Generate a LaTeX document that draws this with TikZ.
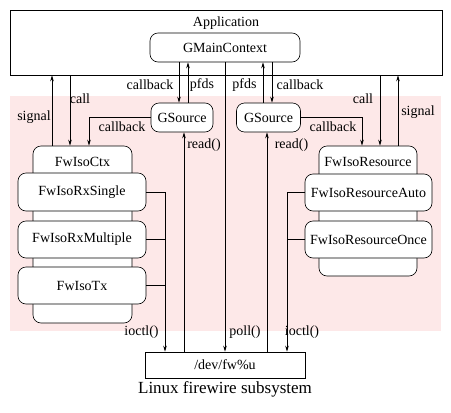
\documentclass[tikz,border=0pt]{standalone}
\usepackage{fontspec}
\setmainfont{Liberation Serif}
\usetikzlibrary{arrows.meta,positioning,calc}
\definecolor{layerpink}{RGB}{253,232,232}

\begin{document}
\begin{tikzpicture}[x=1pt,y=-1pt,line width=0.6pt,>={Stealth[length=6pt,width=3.5pt]},
	every node/.style={font=\fontsize{14}{16}\selectfont,inner sep=0pt},
	plain/.style={draw,fill=white},
	rbox/.style={draw,fill=white,rounded corners=8pt},
	lbl/.style={fill=none}]
	\useasboundingbox (0,0) rectangle (451,413);
	% kernel side background
	\fill[layerpink] (10,96) rectangle (441,331);
	
	% application
	\node[plain,minimum width=432,minimum height=65] (app) at (226,42.5) {};
	\node (app_t) at (226,23) {Application};
	\node[rbox,minimum width=150,minimum height=29] (gmc) at (225,47.5) {GMainContext};
	
	% sources
	\node[rbox,minimum width=62,minimum height=29] (gs_l) at (182,117.5) {GSource};
	\node[rbox,minimum width=64,minimum height=29] (gs_r) at (268.5,117.5) {GSource};
	
	% FwIsoCtx stack
	\node[rbox,minimum width=99,minimum height=177] (ctx) at (82.5,234.5) {};
	\node (ctx_t) at (82.5,162) {FwIsoCtx};
	\node[rbox,minimum width=128,minimum height=38] (rx_s) at (82,192) {FwIsoRxSingle};
	\node[rbox,minimum width=128,minimum height=37] (rx_m) at (82,239.5) {FwIsoRxMultiple};
	\node[rbox,minimum width=128,minimum height=37] (tx) at (82,285.5) {FwIsoTx};
	
	% FwIsoResource stack
	\node[rbox,minimum width=98,minimum height=130] (res) at (368,211) {};
	\node (res_t) at (368,162) {FwIsoResource};
	\node[rbox,minimum width=127,minimum height=37] (res_a) at (368.5,192.5) {FwIsoResourceAuto};
	\node[rbox,minimum width=127,minimum height=37] (res_o) at (368.5,239.5) {FwIsoResourceOnce};
	
	% character device
	\node[plain,minimum width=160,minimum height=26] (dev) at (225,365) {/dev/fw\%u};
	\node (linux) at (225,389) {\fontsize{17}{19}\selectfont Linux firewire subsystem};
	
	\coordinate (sig_l) at ([xshift=-30.5]ctx.north);
	\coordinate (call_l) at ([xshift=-12.5]ctx.north);
	\coordinate (cb_l) at ([xshift=6.5]ctx.north);
	\coordinate (cb_r) at ([xshift=-6]res.north);
	\coordinate (call_r) at ([xshift=12]res.north);
	\coordinate (sig_r) at ([xshift=30]res.north);
	\coordinate (ioc_l) at ([xshift=-60]dev.north);
	\coordinate (ioc_r) at ([xshift=62]dev.north);
	
	% application <-> contexts
	\draw[->] (sig_l) -- (sig_l |- app.south);
	\draw[->] (call_l |- app.south) -- (call_l);
	\draw[->] (gs_l.west) -| (cb_l);
	\draw[->] (gs_r.east) -| (cb_r);
	\draw[->] (call_r |- app.south) -- (call_r);
	\draw[->] (sig_r) -- (sig_r |- app.south);
	
	% main context <-> sources
	\draw[->] ([xshift=-3]gs_l.north |- gmc.south) -- ([xshift=-3]gs_l.north);
	\draw[->] ([xshift=6]gs_l.north) -- ([xshift=6]gs_l.north |- gmc.south);
	\draw[->] ([xshift=-5.5]gs_r.north) -- ([xshift=-5.5]gs_r.north |- gmc.south);
	\draw[->] ([xshift=3.5]gs_r.north |- gmc.south) -- ([xshift=3.5]gs_r.north);
	
	% device
	\draw[->] (gmc.south) -- (dev.north);
	\draw[->] ([xshift=2]gs_l.south |- dev.north) -- ([xshift=2]gs_l.south);
	\draw[->] ([xshift=-1.5]gs_r.south |- dev.north) -- ([xshift=-1.5]gs_r.south);
	\draw[->] (rx_s.east) -| (ioc_l);
	\draw (rx_m.east) -- (rx_m.east -| ioc_l);
	\draw (tx.east) -- (tx.east -| ioc_l);
	\draw[->] (res_a.west) -| (ioc_r);
	\draw (res_o.west) -- (res_o.west -| ioc_r);
	
	% labels
	\node[lbl] (l_sig_l) at (34,117) {signal};
	\node[lbl] (l_call_l) at (80,99) {call};
	\node[lbl] (l_cb_l) at (122,127) {callback};
	\node[lbl] (l_cb_gl) at (150,85) {callback};
	\node[lbl] (l_pf_l) at (202,85) {pfds};
	\node[lbl] (l_pf_r) at (244.5,85) {pfds};
	\node[lbl] (l_cb_gr) at (300,85) {callback};
	\node[lbl] (l_cb_r) at (333,127) {callback};
	\node[lbl] (l_call_r) at (363,99) {call};
	\node[lbl] (l_sig_r) at (418,112) {signal};
	\node[lbl] (l_rd_l) at (204,145) {read()};
	\node[lbl] (l_rd_r) at (291.5,145) {read()};
	\node[lbl] (l_ioc_l) at (141.5,332) {ioctl()};
	\node[lbl] (l_poll) at (245,332) {poll()};
	\node[lbl] (l_ioc_r) at (302,332) {ioctl()};
\end{tikzpicture}
\end{document}
